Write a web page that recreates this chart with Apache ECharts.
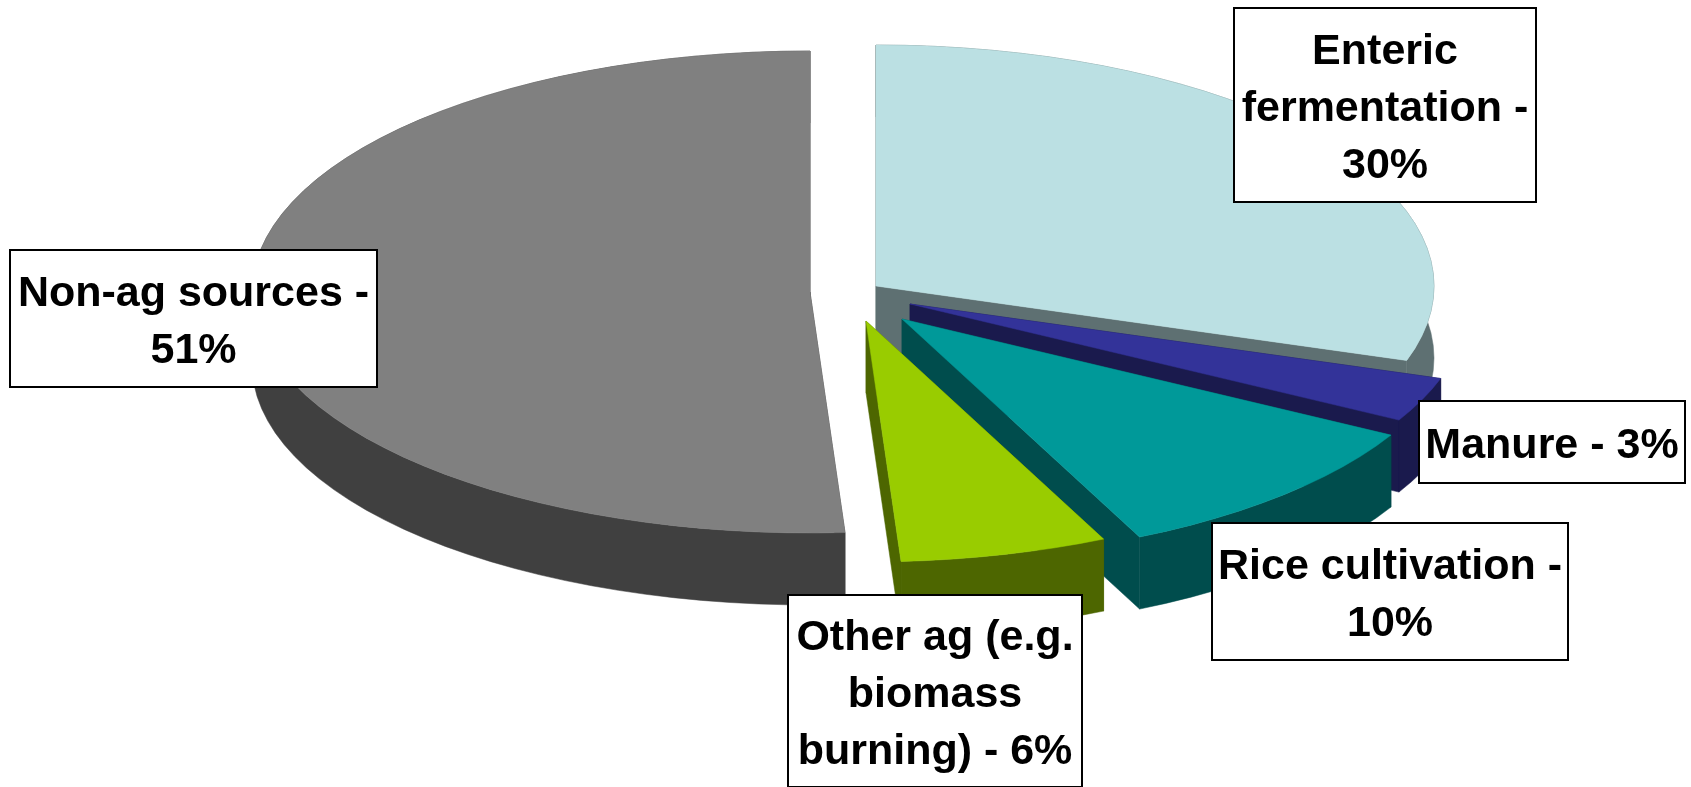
<!DOCTYPE html>
<html>
<head>
<meta charset="utf-8">
<style>html,body{margin:0;padding:0;background:#fff}#main{width:1691px;height:787px}</style>
<script src="https://cdn.jsdelivr.net/npm/echarts@6/dist/echarts.min.js"></script>
</head>
<body>
<div id="main"></div>
<script>
// share of emissions, clockwise from 12 o'clock
var categories = ['Enteric fermentation', 'Manure', 'Rice cultivation', 'Other ag (e.g. biomass burning)', 'Non-ag sources'];
var values = [30, 3, 10, 6, 51];
var labelTexts = ['Enteric\nfermentation -\n30%', 'Manure - 3%', 'Rice cultivation -\n10%', 'Other ag (e.g.\nbiomass\nburning) - 6%', 'Non-ag sources -\n51%'];

var topColors = ['#BBE0E3', '#333399', '#009999', '#99CC00', '#808080'];
var wallColors = ['#5E7072', '#1A1A4D', '#004D4D', '#4D6600', '#404040'];

// where each exploded wedge has its point, then the label boxes [x, y, w, h]
var apex = [[876, 286], [910, 304], [902, 319], [866, 321], [810, 292]];
var labelBoxes = [[1234, 8, 302, 194], [1419, 401, 266, 82], [1212, 523, 356, 137], [788, 595, 294, 192], [10, 250, 367, 137]];
var rx = 558, ry = 241, depth = 72;

var total = values.reduce(function (a, b) { return a + b; }, 0);

function arcPoints(c, from, to, dy) {
     var pts = [];
     var steps = Math.max(2, Math.ceil((to - from) * 120));
     for (var i = 0; i <= steps; i++) {
          var t = (from + (to - from) * i / steps) * 2 * Math.PI;
          pts.push([c[0] + rx * Math.sin(t), c[1] - ry * Math.cos(t) + dy]);
     }
     return pts;
}

function poly(points, color) {
     return { type: 'polygon', shape: { points: points }, style: { fill: color, stroke: color, lineWidth: 0.5 } };
}

function renderSlice(params, api) {
     var i = params.dataIndex;
     var before = 0;
     for (var k = 0; k < i; k++) before += values[k];
     var from = before / total;
     var to = (before + api.value(1)) / total;
     var c = apex[i];
     var top = arcPoints(c, from, to, 0);
     var low = arcPoints(c, from, to, depth);
     var first = top[0], last = top[top.length - 1];
     var wall = wallColors[i];
     return {
          type: 'group',
          children: [
               poly([c, first, [first[0], first[1] + depth], [c[0], c[1] + depth]], wall),
               poly([c, last, [last[0], last[1] + depth], [c[0], c[1] + depth]], wall),
               poly(top.concat(low.slice().reverse()), wall),
               poly([c].concat(top), topColors[i])
          ]
     };
}

var graphics = [];
labelTexts.forEach(function (txt, i) {
     var b = labelBoxes[i];
     graphics.push({
          type: 'rect', z: 10,
          shape: { x: b[0], y: b[1], width: b[2], height: b[3] },
          style: { fill: '#fff', stroke: '#000', lineWidth: 2 }
     });
     graphics.push({
          type: 'text', z: 11,
          x: b[0] + b[2] / 2, y: b[1] + b[3] / 2 + 4,
          style: {
               text: txt, fill: '#000', align: 'center', verticalAlign: 'middle',
               font: 'bold 43px "Liberation Sans", Arial, sans-serif', lineHeight: 57
          }
     });
});

var myChart = echarts.init(document.getElementById('main'));
var option = {
     animation: false,
     backgroundColor: '#fff',
     xAxis: { show: false, type: 'category', data: categories },
     yAxis: { show: false, type: 'value' },
     grid: { left: 0, right: 0, top: 0, bottom: 0 },
     graphic: graphics,
     series: [{
          type: 'custom',
          coordinateSystem: 'none',
          renderItem: renderSlice,
          encode: { value: 1 },
          data: values.map(function (v, i) { return [i, v]; })
     }]
};
myChart.setOption(option);
</script>
</body>
</html>
